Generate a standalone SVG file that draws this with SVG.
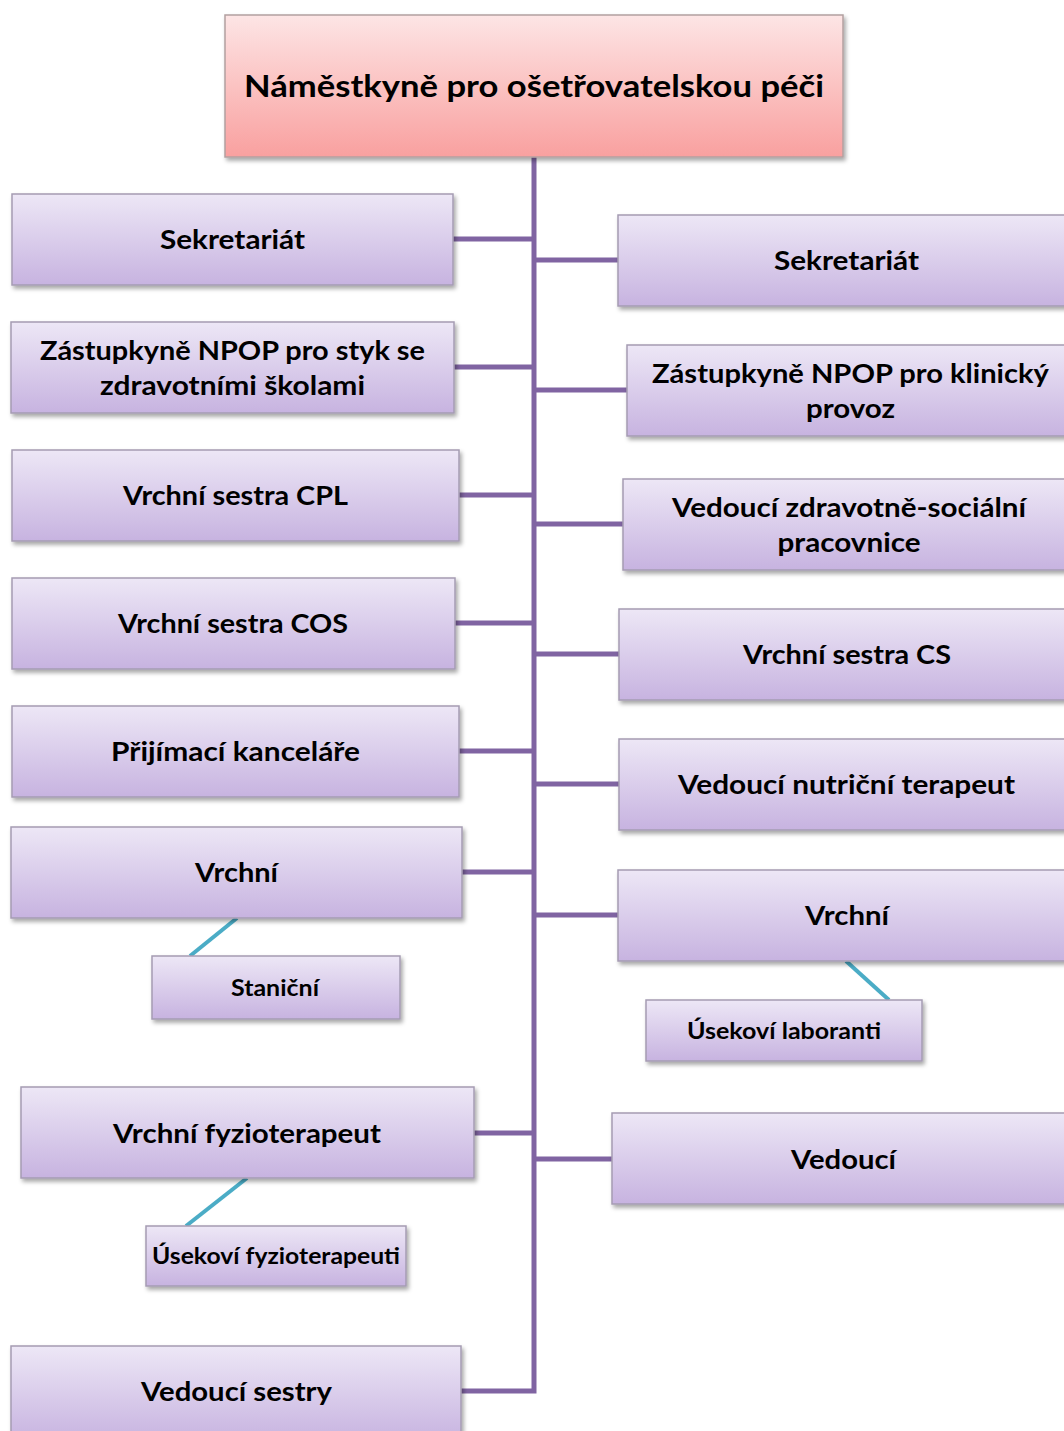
<svg xmlns="http://www.w3.org/2000/svg" width="1064" height="1431" viewBox="0 0 1064 1431">
<style>
.box{fill:url(#gPurple);stroke:#a59cb3;stroke-width:1.5;filter:url(#sh)}
.top{fill:url(#gPink);stroke:#b3a0a0;stroke-width:1.5;filter:url(#sh)}
.t{font-family:Lato,"Open Sans","Liberation Sans",sans-serif;font-weight:bold;fill:#000;text-anchor:middle}
.big{font-size:27px}
.sm{font-size:22px}
.ttl{font-size:31px}
.conn{stroke:#8064a2;stroke-width:5;fill:none}
.sub{stroke:#4bacc6;stroke-width:4;fill:none}
</style>
<defs>
<linearGradient id="gPurple" x1="0" y1="0" x2="0" y2="1">
<stop offset="0" stop-color="#ede7f6"/>
<stop offset="1" stop-color="#c7b3e0"/>
</linearGradient>
<linearGradient id="gPink" x1="0" y1="0" x2="0" y2="1">
<stop offset="0" stop-color="#fde5e5"/>
<stop offset="1" stop-color="#f9a09f"/>
</linearGradient>
<filter id="sh" x="-5%" y="-10%" width="115%" height="130%">
<feDropShadow dx="2" dy="3" stdDeviation="2" flood-color="#000" flood-opacity="0.35"/>
</filter>
</defs>
<rect width="1064" height="1431" fill="#fff"/>

<g id="connectors">
<path class="conn" d="M534 157 V1391 H461"/>
<path class="conn" d="M453 239 H534 M454 367 H534 M459 495 H534 M455 623 H534 M459 751 H534 M462 872 H534 M474 1133 H534"/>
<path class="conn" d="M534 260 H618 M534 390 H627 M534 524 H623 M534 654 H619 M534 784 H619 M534 915 H618 M534 1159 H612"/>
<path class="sub" d="M237 918 L190 956"/>
<path class="sub" d="M247 1178 L186 1226"/>
<path class="sub" d="M846 961 L889 1000"/>
</g>

<g id="n0">
<rect class="top" x="225" y="15" width="618" height="142"/>
<text class="t ttl" x="534" y="97" textLength="580" lengthAdjust="spacingAndGlyphs">Náměstkyně pro ošetřovatelskou péči</text>
</g>

<g id="l1">
<rect class="box" x="12" y="194" width="441" height="91"/>
<text class="t big" x="232.5" y="249" textLength="145" lengthAdjust="spacingAndGlyphs">Sekretariát</text>
</g>
<g id="l2">
<rect class="box" x="11" y="322" width="443" height="91"/>
<text class="t big" x="232.5" y="360" textLength="385" lengthAdjust="spacingAndGlyphs">Zástupkyně NPOP pro styk se</text>
<text class="t big" x="232.5" y="395" textLength="265" lengthAdjust="spacingAndGlyphs">zdravotními školami</text>
</g>
<g id="l3">
<rect class="box" x="12" y="450" width="447" height="91"/>
<text class="t big" x="235.5" y="505" textLength="225" lengthAdjust="spacingAndGlyphs">Vrchní sestra CPL</text>
</g>
<g id="l4">
<rect class="box" x="12" y="578" width="443" height="91"/>
<text class="t big" x="233" y="633" textLength="230" lengthAdjust="spacingAndGlyphs">Vrchní sestra COS</text>
</g>
<g id="l5">
<rect class="box" x="12" y="706" width="447" height="91"/>
<text class="t big" x="235.5" y="761" textLength="249" lengthAdjust="spacingAndGlyphs">Přijímací kanceláře</text>
</g>
<g id="l6">
<rect class="box" x="11" y="827" width="451" height="91"/>
<text class="t big" x="236.5" y="882" textLength="83" lengthAdjust="spacingAndGlyphs">Vrchní</text>
</g>
<g id="l6a">
<rect class="box" x="152" y="956" width="248" height="63"/>
<text class="t sm" x="275" y="996" textLength="88" lengthAdjust="spacingAndGlyphs">Staniční</text>
</g>
<g id="l7">
<rect class="box" x="21" y="1087" width="453" height="91"/>
<text class="t big" x="247" y="1143" textLength="268" lengthAdjust="spacingAndGlyphs">Vrchní fyzioterapeut</text>
</g>
<g id="l7a">
<rect class="box" x="146" y="1226" width="260" height="60"/>
<text class="t sm" x="276" y="1264" textLength="248" lengthAdjust="spacingAndGlyphs">Úsekoví fyzioterapeuti</text>
</g>
<g id="l8">
<rect class="box" x="11" y="1346" width="450" height="95"/>
<text class="t big" x="236.5" y="1401" textLength="191" lengthAdjust="spacingAndGlyphs">Vedoucí sestry</text>
</g>

<g id="r1">
<rect class="box" x="618" y="215" width="457" height="91"/>
<text class="t big" x="846.5" y="270" textLength="145" lengthAdjust="spacingAndGlyphs">Sekretariát</text>
</g>
<g id="r2">
<rect class="box" x="627" y="345" width="448" height="91"/>
<text class="t big" x="850.5" y="383" textLength="397" lengthAdjust="spacingAndGlyphs">Zástupkyně NPOP pro klinický</text>
<text class="t big" x="850.5" y="418" textLength="89" lengthAdjust="spacingAndGlyphs">provoz</text>
</g>
<g id="r3">
<rect class="box" x="623" y="479" width="452" height="91"/>
<text class="t big" x="849" y="517" textLength="354" lengthAdjust="spacingAndGlyphs">Vedoucí zdravotně-sociální</text>
<text class="t big" x="849" y="552" textLength="143" lengthAdjust="spacingAndGlyphs">pracovnice</text>
</g>
<g id="r4">
<rect class="box" x="619" y="609" width="456" height="91"/>
<text class="t big" x="847" y="664" textLength="208" lengthAdjust="spacingAndGlyphs">Vrchní sestra CS</text>
</g>
<g id="r5">
<rect class="box" x="619" y="739" width="456" height="91"/>
<text class="t big" x="846.5" y="794" textLength="337" lengthAdjust="spacingAndGlyphs">Vedoucí nutriční terapeut</text>
</g>
<g id="r6">
<rect class="box" x="618" y="870" width="457" height="91"/>
<text class="t big" x="847" y="925" textLength="84" lengthAdjust="spacingAndGlyphs">Vrchní</text>
</g>
<g id="r6a">
<rect class="box" x="646" y="1000" width="276" height="61"/>
<text class="t sm" x="784" y="1039" textLength="194" lengthAdjust="spacingAndGlyphs">Úsekoví laboranti</text>
</g>
<g id="r7">
<rect class="box" x="612" y="1113" width="463" height="91"/>
<text class="t big" x="843.5" y="1169" textLength="105" lengthAdjust="spacingAndGlyphs">Vedoucí</text>
</g>
</svg>
